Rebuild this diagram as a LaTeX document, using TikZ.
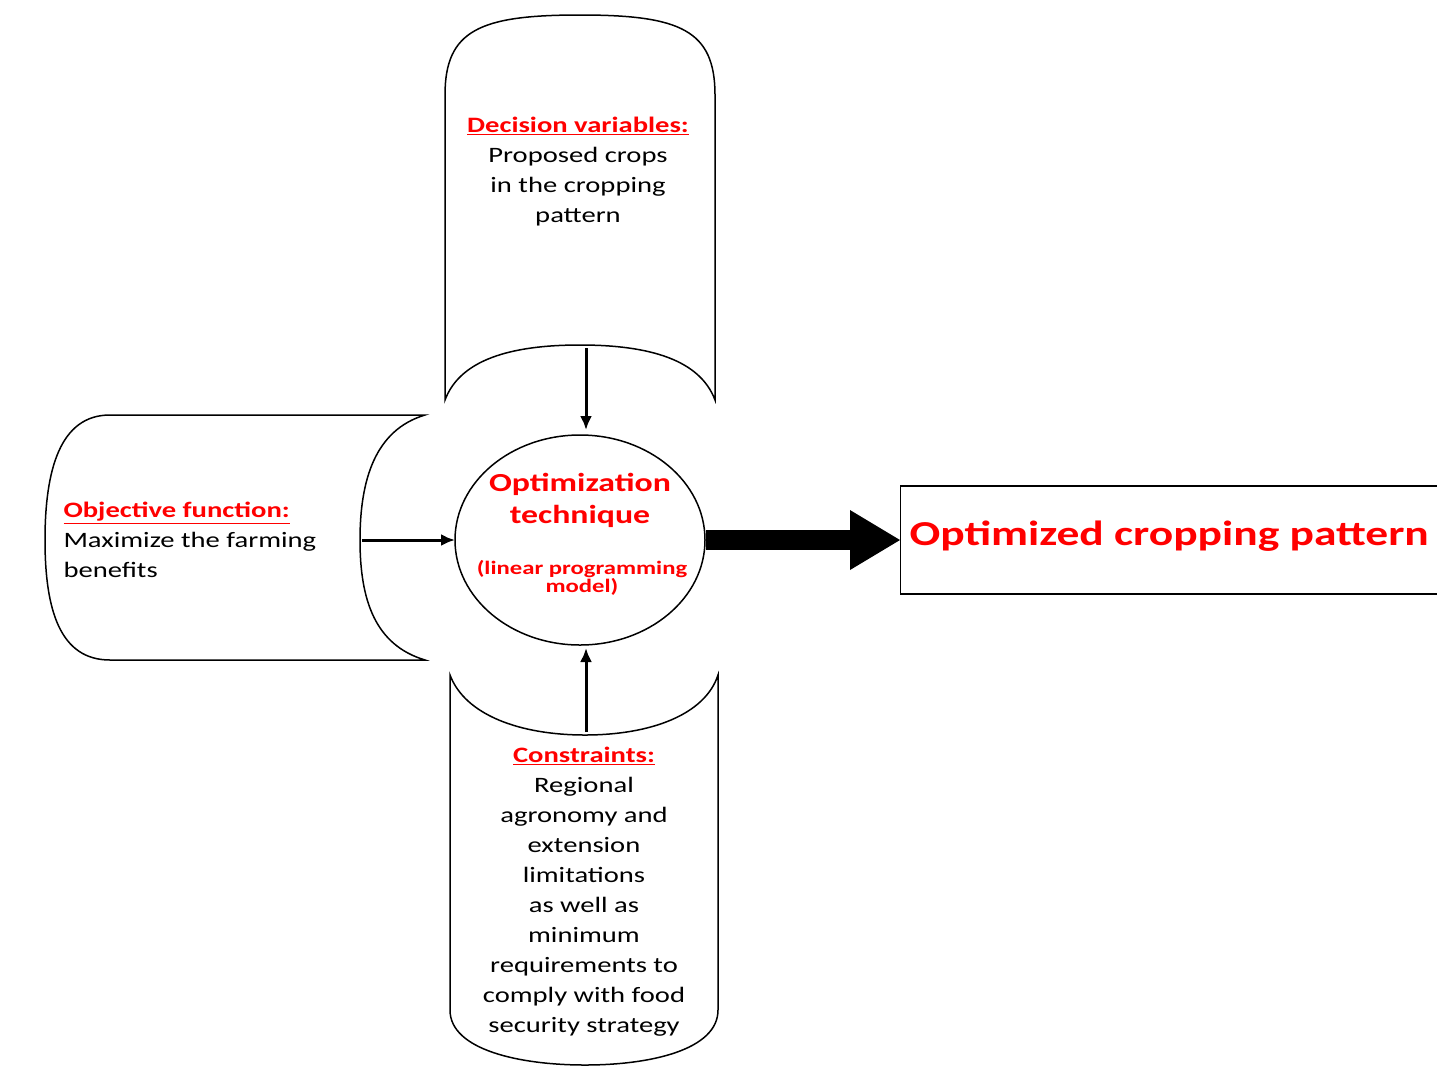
\documentclass[tikz,border=0pt]{standalone}
\usepackage{fontspec}
\setmainfont{Carlito}[FakeStretch=1.3]
\usetikzlibrary{arrows.meta}
\begin{document}
\begin{tikzpicture}[x=1pt,y=-1pt,
 shp/.style={draw=black,line width=1.5pt,fill=white},
 txt/.style={align=center,font=\fontsize{22}{30}\selectfont},
 arr/.style={-{Latex[length=14pt,width=12pt]},line width=3pt}]
\useasboundingbox (0,0) rectangle (1437,1074);
% top shape
\draw[shp] (445,400) -- (445,95) .. controls (445,30) and (480,15) .. (580,15) .. controls (680,15) and (715,30) .. (715,95) -- (715,400) .. controls (700,360) and (650,345) .. (580,345) .. controls (510,345) and (460,360) .. (445,400) -- cycle;
% left shape
\draw[shp] (425,415) -- (110,415) .. controls (60,415) and (45,470) .. (45,540) .. controls (45,610) and (60,660) .. (110,660) -- (425,660) .. controls (375,645) and (360,600) .. (360,540) .. controls (360,480) and (375,430) .. (425,415) -- cycle;
% bottom shape
\draw[shp] (450,675) -- (450,1010) .. controls (450,1050) and (520,1065) .. (585,1065) .. controls (650,1065) and (718,1050) .. (718,1010) -- (718,675) .. controls (705,715) and (650,735) .. (585,735) .. controls (520,735) and (465,715) .. (450,675) -- cycle;
% circle
\draw[line width=1.5pt] (580,540) ellipse [x radius=125, y radius=105];
\node[circle,minimum size=200pt] (c) at (580,540) {};
\node[align=center,text=red,font=\bfseries\fontsize{26}{32}\selectfont] (ct) at (580,500) {Optimization\\technique};
\node[align=center,text=red,font=\bfseries\fontsize{19}{17}\selectfont] (cs) at (582,578) {(linear programming\\model)};
% box
\node[draw,line width=1.2pt,minimum width=600pt,minimum height=108pt,anchor=west,inner sep=0pt] (box) at (900,540) {};
\node[anchor=west,text=red,font=\bfseries\fontsize{35}{40}\selectfont] (bt) at (906,536) {Optimized cropping pattern};
% texts
\node[txt] (dv) at (578,172) {{\color{red}\bfseries\underline{Decision variables:}}\\Proposed crops\\in the cropping\\pattern};
\node[txt,align=left,anchor=west] (of) at (60,540) {{\color{red}\bfseries\underline{Objective function:}}\\Maximize the farming\\benefits};
\node[txt] (cn) at (584,892) {{\color{red}\bfseries\underline{Constraints:}}\\Regional\\agronomy and\\extension\\limitations\\as well as\\minimum\\requirements to\\comply with food\\security strategy};
% arrows
\coordinate (ta) at (586,348);
\coordinate (la) at (362,540);
\coordinate (ba) at (586,732);
\draw[arr] (ta) -- (586,430);
\draw[arr] (la) -- (455,540);
\draw[arr] (ba) -- (586,648);
\draw[line width=20pt] (706,540) -- (850,540);
\fill (850,510) -- (900,540) -- (850,570) -- cycle;
\end{tikzpicture}
\end{document}
